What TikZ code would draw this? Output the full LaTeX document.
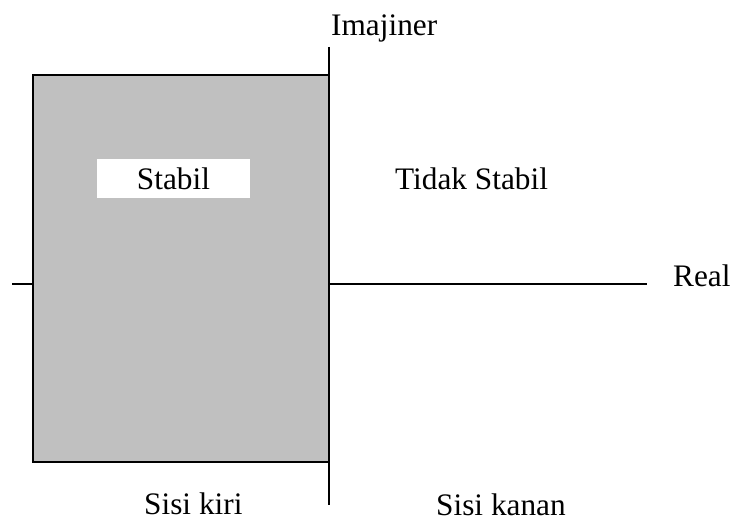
\documentclass[tikz,border=0pt]{standalone}
\usepackage{fontspec}
\setmainfont{Liberation Serif}
\definecolor{regiongray}{RGB}{192,192,192}
\begin{document}
\begin{tikzpicture}[x=1pt,y=-1pt,
  lbl/.style={font=\fontsize{31.3}{36}\selectfont, inner sep=0pt, anchor=base west},
  axis/.style={line width=2.6pt},
  region/.style={line width=1.6pt, fill=regiongray}]
\useasboundingbox (0,0) rectangle (734,519);
\coordinate (rl) at (12,284);
\coordinate (rr) at (647,284);
\coordinate (it) at (329,47);
\coordinate (ib) at (329,505);
\coordinate (regtl) at (33,75);
\coordinate (regbr) at (329,462);
\draw[axis] (rl) -- (rr);
\draw[region] (regtl) rectangle (regbr);
\draw[axis] (it) -- (ib);
\node[fill=white, minimum width=153pt, minimum height=39pt, inner sep=0pt,
      font=\fontsize{31.3}{36}\selectfont] (stabil) at (173.5,178.5) {Stabil};
\node[lbl] (imaj) at (331,36) {Imajiner};
\node[lbl] (tidak) at (395,189) {Tidak Stabil};
\node[lbl] (real) at (673,286) {Real};
\node[lbl] (kiri) at (144,514) {Sisi kiri};
\node[lbl] (kanan) at (436,515) {Sisi kanan};
\end{tikzpicture}
\end{document}
